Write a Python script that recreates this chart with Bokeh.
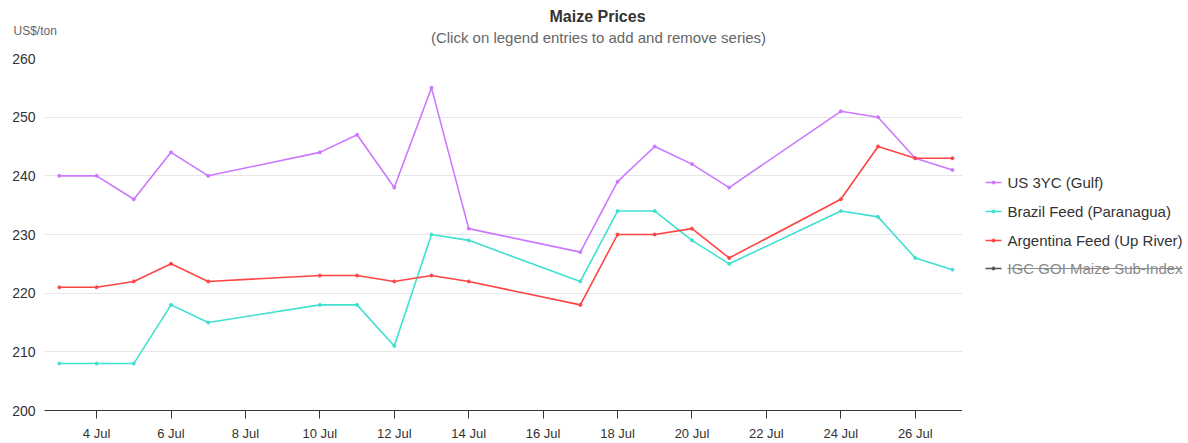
import pandas as pd
from bokeh.plotting import figure
from bokeh.layouts import column, row
from bokeh.models import (ColumnDataSource, Range1d, DatetimeTickFormatter,
                          DaysTicker, SingleIntervalTicker)
from bokeh.core.properties import value
from bokeh.embed import file_html
from bokeh.resources import INLINE

# ---------------- data ----------------
dates = ["2023-07-03", "2023-07-04", "2023-07-05", "2023-07-06", "2023-07-07",
         "2023-07-10", "2023-07-11", "2023-07-12", "2023-07-13", "2023-07-14",
         "2023-07-17", "2023-07-18", "2023-07-19", "2023-07-20", "2023-07-21",
         "2023-07-24", "2023-07-25", "2023-07-26", "2023-07-27"]
us_3yc_gulf = [240, 240, 236, 244, 240, 244, 247, 238, 255, 231,
               227, 239, 245, 242, 238, 251, 250, 243, 241]
brazil_feed = [208, 208, 208, 218, 215, 218, 218, 211, 230, 229,
               222, 234, 234, 229, 225, 234, 233, 226, 224]
argentina_feed = [221, 221, 222, 225, 222, 223, 223, 222, 223, 222,
                  218, 230, 230, 231, 226, 236, 245, 243, 243]
igc_goi_maize = []  # hidden series (switched off in the legend)

series_names = ["US 3YC (Gulf)", "Brazil Feed (Paranagua)",
                "Argentina Feed (Up River)", "IGC GOI Maize Sub-Index"]
series_colors = ["#cc77ff", "#40e0d0", "#ff4444", "#555555"]
series_hidden = [False, False, False, True]

title_text = "Maize Prices"
subtitle_text = "(Click on legend entries to add and remove series)"
y_unit = "US$/ton"

FONT = "Liberation Sans"
TOTAL_W = 1188
TOTAL_H = 443
HEAD_H = 50
MAIN_H = TOTAL_H - HEAD_H
MAIN_W = 962
FRAME_TOP, FRAME_BOTTOM = 58, 410   # page pixels of the plot area

# ---------------- header (title, subtitle, unit) ----------------
head = figure(width=TOTAL_W, height=HEAD_H, x_range=Range1d(0, TOTAL_W),
              y_range=Range1d(HEAD_H, 0), output_backend="svg",
              toolbar_location=None, x_axis_location=None, y_axis_location=None,
              min_border=0)
head.outline_line_color = None
head.grid.grid_line_color = None
head.text(x=[597], y=[16], text=[title_text], text_align="center",
          text_baseline="middle", text_font=value(FONT), text_font_size="16px",
          text_font_style="bold", text_color="#333333")
head.text(x=[598], y=[37], text=[subtitle_text], text_align="center",
          text_baseline="middle", text_font=value(FONT), text_font_size="15px",
          text_color="#666666")
head.text(x=[13], y=[30], text=[y_unit], text_align="left",
          text_baseline="middle", text_font=value(FONT), text_font_size="12px",
          text_color="#666666")

# ---------------- main chart ----------------
x = pd.to_datetime(dates)
day = pd.Timedelta(days=1)

p = figure(width=MAIN_W, height=MAIN_H, x_axis_type="datetime",
           x_range=Range1d(x[0] - 0.4 * day, x[-1] + 0.27 * day),
           y_range=Range1d(200, 260),
           output_backend="svg", toolbar_location=None,
           min_border_left=44, min_border_right=0,
           min_border_top=FRAME_TOP - HEAD_H,
           min_border_bottom=TOTAL_H - FRAME_BOTTOM)
p.outline_line_color = None

p.xgrid.grid_line_color = None
p.ygrid.grid_line_color = "#e6e6e6"
p.ygrid.grid_line_width = 1

p.yaxis.ticker = SingleIntervalTicker(interval=10, num_minor_ticks=0)
p.yaxis.axis_line_color = None
p.yaxis.major_tick_line_color = None
p.yaxis.major_tick_out = 0
p.yaxis.major_tick_in = 0
p.yaxis.minor_tick_line_color = None
p.yaxis.major_label_standoff = 9
p.yaxis.major_label_text_font = FONT
p.yaxis.major_label_text_font_size = "14px"
p.yaxis.major_label_text_color = "#333333"

p.xaxis.ticker = DaysTicker(days=list(range(2, 32, 2)))
p.xaxis.formatter = DatetimeTickFormatter(days="%-d %b", months="%-d %b")
p.xaxis.axis_line_color = "#333333"
p.xaxis.major_tick_line_color = "#333333"
p.xaxis.major_tick_out = 8
p.xaxis.major_tick_in = 0
p.xaxis.minor_tick_line_color = None
p.xaxis.major_label_standoff = 7
p.xaxis.major_label_text_font = FONT
p.xaxis.major_label_text_font_size = "13px"
p.xaxis.major_label_text_color = "#333333"

for vals, col in zip([us_3yc_gulf, brazil_feed, argentina_feed, igc_goi_maize],
                     series_colors):
    src = ColumnDataSource(dict(x=list(x[:len(vals)]), y=vals))
    p.line("x", "y", source=src, line_color=col, line_width=1.6)
    p.scatter("x", "y", source=src, size=3, color=col)

# ---------------- legend panel (page-pixel coordinates) ----------------
leg = figure(width=TOTAL_W - MAIN_W, height=MAIN_H,
             x_range=Range1d(MAIN_W, TOTAL_W),
             y_range=Range1d(FRAME_BOTTOM, FRAME_TOP), output_backend="svg",
             toolbar_location=None, x_axis_location=None, y_axis_location=None,
             min_border_left=0, min_border_right=0,
             min_border_top=FRAME_TOP - HEAD_H,
             min_border_bottom=TOTAL_H - FRAME_BOTTOM)
leg.outline_line_color = None
leg.grid.grid_line_color = None

item_y = [182, 211, 240, 268]
text_cols = ["#8a8a8a" if h else "#333333" for h in series_hidden]
leg.segment(x0=[985] * 4, y0=item_y, x1=[1001] * 4, y1=item_y,
            line_color=series_colors, line_width=1.6)
leg.scatter(x=[993] * 4, y=item_y, size=3, color=series_colors)
leg.text(x=[1007] * 4, y=item_y, text=series_names, text_align="left",
         text_baseline="middle", text_font=value(FONT), text_font_size="15px",
         text_color=text_cols)
# strike-through for the hidden entry
hid_y = [yy for yy, h in zip(item_y, series_hidden) if h]
leg.segment(x0=[1007] * len(hid_y), y0=hid_y, x1=[1182] * len(hid_y), y1=hid_y,
            line_color="#8a8a8a", line_width=1.2)

layout = column(head, row(p, leg))
open("out.html", "w").write(file_html(layout, INLINE))
